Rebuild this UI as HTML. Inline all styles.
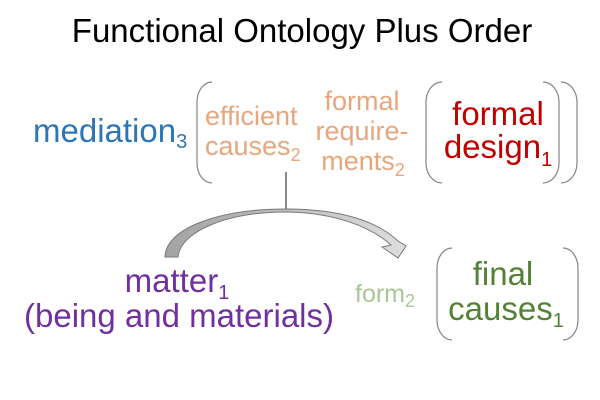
<!DOCTYPE html>
<html>
<head>
<meta charset="utf-8">
<style>
  html, body { margin: 0; padding: 0; background: #ffffff; }
  svg { display: block; }
  text { font-family: "Liberation Sans", Arial, sans-serif; }
</style>
</head>
<body>
<svg width="600" height="400" viewBox="0 0 600 400" xmlns="http://www.w3.org/2000/svg">
  <defs>
    <linearGradient id="ag" x1="165" y1="0" x2="406" y2="0" gradientUnits="userSpaceOnUse">
      <stop offset="0" stop-color="#a3a3a3"/>
      <stop offset="0.5" stop-color="#bdbdbd"/>
      <stop offset="1" stop-color="#dedede"/>
    </linearGradient>
  </defs>

  <!-- Title -->
  <text x="302" y="42" font-size="33" text-anchor="middle" fill="#000">Functional Ontology Plus Order</text>

  <!-- mediation -->
  <text x="33" y="142" font-size="33" fill="#2E75B6">mediation<tspan font-size="20" dy="6">3</tspan></text>

  <!-- brackets row 1 -->
  <g fill="none" stroke="#858585" stroke-width="1.2">
    <path d="M212,82 A15,20 0 0 0 197,102 V163 A15,20 0 0 0 212,183"/>
    <path d="M442,82 A16,20 0 0 0 426,102 V163 A16,20 0 0 0 442,183"/>
    <path d="M543,82 A16,20 0 0 1 559,102 V163 A16,20 0 0 1 543,183"/>
    <path d="M561,82 A16,20 0 0 1 577,102 V163 A16,20 0 0 1 561,183"/>
    <path d="M452,248 A15,20 0 0 0 437,268 V320 A15,20 0 0 0 452,340"/>
    <path d="M563,248 A15,20 0 0 1 578,268 V320 A15,20 0 0 1 563,340"/>
  </g>

  <!-- efficient causes -->
  <text x="205" y="125" font-size="27" fill="#E7A67C">efficient</text>
  <text x="205" y="155" font-size="27" fill="#E7A67C">causes<tspan font-size="18" dy="6">2</tspan></text>

  <!-- formal requirements -->
  <text x="362" y="110" font-size="27" text-anchor="middle" fill="#E7A67C">formal</text>
  <text x="362" y="140" font-size="27" text-anchor="middle" fill="#E7A67C">require-</text>
  <text x="363" y="170" font-size="27" text-anchor="middle" fill="#E7A67C">ments<tspan font-size="18" dy="6">2</tspan></text>

  <!-- formal design -->
  <text x="498" y="125" font-size="33" text-anchor="middle" fill="#C00000">formal</text>
  <text x="498" y="158" font-size="33" text-anchor="middle" fill="#C00000">design<tspan font-size="20" dy="8">1</tspan></text>

  <!-- vertical connector -->
  <line x1="286" y1="172" x2="286" y2="210" stroke="#6b6b6b" stroke-width="1.6"/>

  <!-- curved arrow -->
  <path d="M165,257 C165,230 215,209 286,209 C340,209 377,221 398,241 L406,246 L398,258 L382,247 L391,245 C371,227 335,212.5 286,212 C226,212 180,232 178,257 Z"
        fill="url(#ag)" stroke="#7a7a7a" stroke-width="1"/>

  <!-- matter -->
  <text x="177" y="292" font-size="33" text-anchor="middle" fill="#7030A0">matter<tspan font-size="20" dy="7">1</tspan></text>
  <text x="179" y="327" font-size="33" text-anchor="middle" fill="#7030A0">(being and materials)</text>

  <!-- form -->
  <text x="355" y="302" font-size="25" fill="#A9C59A">form<tspan font-size="18" dy="5">2</tspan></text>

  <!-- final causes -->
  <text x="503" y="285" font-size="33" text-anchor="middle" fill="#548235">final</text>
  <text x="506" y="320" font-size="33" text-anchor="middle" fill="#548235">causes<tspan font-size="20" dy="7">1</tspan></text>
</svg>
</body>
</html>
